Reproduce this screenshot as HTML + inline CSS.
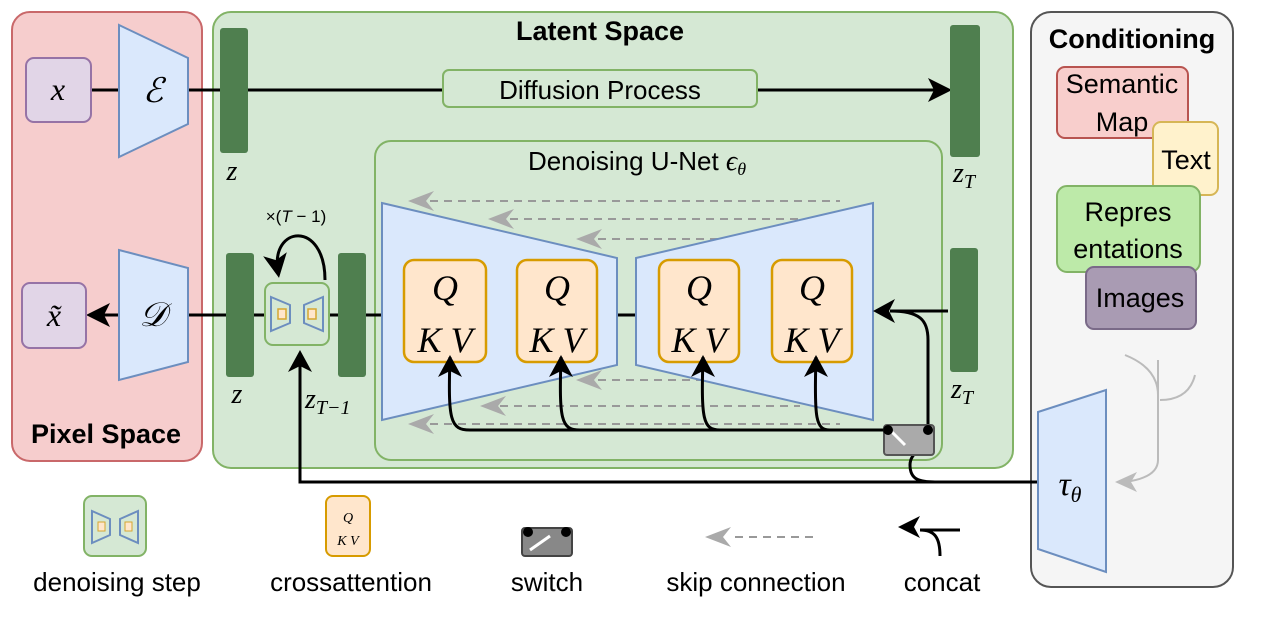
<html><head><style>body{margin:0;background:#fff}svg{display:block}text{font-family:"Liberation Sans",sans-serif}.m,.m text,.m tspan{font-family:"Liberation Serif",serif;font-style:italic}</style></head><body>
<svg width="1278" height="638" viewBox="0 0 1278 638">
<defs>
<marker id="a" markerWidth="8" markerHeight="8" refX="6" refY="4" orient="auto" markerUnits="strokeWidth"><path d="M0,0 L8,4 L0,8 L2,4z" fill="#000"/></marker>
</defs>
<rect x="12" y="12" width="190" height="449" rx="18" fill="#f6cdcd" stroke="#c9686a" stroke-width="2"/>
<rect x="213" y="12" width="800" height="456" rx="18" fill="#d5e8d4" stroke="#82b366" stroke-width="2"/>
<rect x="1031" y="12" width="202" height="575" rx="20" fill="#f5f5f5" stroke="#555" stroke-width="2"/>
<rect x="375" y="141" width="567" height="319" rx="16" fill="#d5e8d4" stroke="#82b366" stroke-width="2"/>
<text x="600" y="40" font-size="27" font-weight="bold" text-anchor="middle">Latent Space</text>
<text x="1132" y="48" font-size="27" font-weight="bold" text-anchor="middle">Conditioning</text>
<text x="106" y="443" font-size="27" font-weight="bold" text-anchor="middle">Pixel Space</text>
<!-- top row -->
<line x1="91" y1="90" x2="119" y2="90" stroke="#000" stroke-width="3"/>
<line x1="188" y1="90" x2="220" y2="90" stroke="#000" stroke-width="3"/>
<line x1="248" y1="90" x2="946" y2="90" stroke="#000" stroke-width="3" marker-end="url(#a)"/>
<rect x="26" y="58" width="65" height="64" rx="8" fill="#e1d5e7" stroke="#9673a6" stroke-width="2"/>
<text x="58" y="100" class="m" font-size="32" text-anchor="middle">x</text>
<polygon points="119,25 188,58 188,124 119,157" fill="#dae8fc" stroke="#6c8ebf" stroke-width="2"/>
<text x="153" y="102" class="m" font-size="34" text-anchor="middle">ℰ</text>
<rect x="220" y="28" width="28" height="125" rx="3" fill="#4f7f4f"/>
<text x="232" y="180" class="m" font-size="28" text-anchor="middle">z</text>
<rect x="443" y="70" width="314" height="37" rx="6" fill="#d5e8d4" stroke="#82b366" stroke-width="2"/>
<text x="600" y="99" font-size="26" text-anchor="middle">Diffusion Process</text>
<rect x="950" y="25" width="30" height="132" rx="3" fill="#4f7f4f"/>
<text x="964" y="182" class="m" font-size="28" text-anchor="middle">z<tspan font-size="20" dy="6">T</tspan></text>
<!-- lower row -->
<line x1="119" y1="315" x2="92" y2="315" stroke="#000" stroke-width="3" marker-end="url(#a)"/>
<line x1="188" y1="315" x2="382" y2="315" stroke="#000" stroke-width="3"/>
<line x1="617" y1="315" x2="636" y2="315" stroke="#000" stroke-width="3"/>
<rect x="22" y="283" width="64" height="65" rx="8" fill="#e1d5e7" stroke="#9673a6" stroke-width="2"/>
<text x="54" y="326" class="m" font-size="32" text-anchor="middle">x̃</text>
<polygon points="119,250 188,268 188,362 119,380" fill="#dae8fc" stroke="#6c8ebf" stroke-width="2"/>
<text x="153" y="326" class="m" font-size="34" text-anchor="middle">𝒟</text>
<rect x="226" y="253" width="28" height="124" rx="3" fill="#4f7f4f"/>
<rect x="338" y="253" width="28" height="124" rx="3" fill="#4f7f4f"/>
<text x="237" y="403" class="m" font-size="28" text-anchor="middle">z</text>
<text x="305" y="408" class="m" font-size="28">z<tspan font-size="20" dy="6">T−1</tspan></text>
<rect x="265" y="283" width="64" height="62" rx="8" fill="#d5e8d4" stroke="#82b366" stroke-width="2"/>
<polygon points="271,297 290,305 290,323 271,331" fill="none" stroke="#6c8ebf" stroke-width="2"/>
<polygon points="323,297 304,305 304,323 323,331" fill="none" stroke="#6c8ebf" stroke-width="2"/>
<rect x="278" y="309" width="8" height="10" fill="#ffe6cc" stroke="#d6a630" stroke-width="1.5"/>
<rect x="308" y="309" width="8" height="10" fill="#ffe6cc" stroke="#d6a630" stroke-width="1.5"/>
<path d="M325,280 C325,220 270,225 278,272" fill="none" stroke="#000" stroke-width="3" marker-end="url(#a)"/>
<text x="296" y="222" font-size="17" text-anchor="middle" font-family="Liberation Serif">×(<tspan font-style="italic">T</tspan> − 1)</text>
<!-- unet -->
<text x="637" y="170" font-size="26" text-anchor="middle">Denoising U-Net <tspan class="m" font-size="28">ϵ</tspan><tspan class="m" font-size="18" dy="5">θ</tspan></text>
<g stroke="#999" stroke-width="2" stroke-dasharray="8,6">
<line x1="430" y1="201" x2="840" y2="201"/>
<line x1="510" y1="219" x2="800" y2="219"/>
<line x1="598" y1="239" x2="750" y2="239"/>
<line x1="598" y1="380" x2="750" y2="380"/>
<line x1="500" y1="406" x2="800" y2="406"/>
<line x1="430" y1="424" x2="840" y2="424"/>
</g>
<g fill="#aaa"><path d="M408,201 l26,-10 -8,10 8,10z"/><path d="M488,219 l26,-10 -8,10 8,10z"/><path d="M576,239 l26,-10 -8,10 8,10z"/><path d="M576,380 l26,-10 -8,10 8,10z"/><path d="M480,406 l26,-10 -8,10 8,10z"/><path d="M408,424 l26,-10 -8,10 8,10z"/></g>
<polygon points="382,203 617,258 617,365 382,420" fill="#dae8fc" stroke="#6c8ebf" stroke-width="2"/>
<polygon points="636,258 873,203 873,420 636,365" fill="#dae8fc" stroke="#6c8ebf" stroke-width="2"/>
<g fill="#ffe6cc" stroke="#d79b00" stroke-width="2.5">
<rect x="404" y="260" width="82" height="102" rx="10"/><rect x="517" y="260" width="80" height="102" rx="10"/>
<rect x="659" y="260" width="80" height="102" rx="10"/><rect x="772" y="260" width="80" height="102" rx="10"/>
</g>
<g font-size="36" text-anchor="middle">
<text class="m" x="445" y="300">Q</text><text class="m" x="445" y="352">K V</text>
<text class="m" x="557" y="300">Q</text><text class="m" x="557" y="352">K V</text>
<text class="m" x="699" y="300">Q</text><text class="m" x="699" y="352">K V</text>
<text class="m" x="812" y="300">Q</text><text class="m" x="812" y="352">K V</text>
</g>
<g fill="none" stroke="#000" stroke-width="3">
<path d="M450,357 C448,420 450,430 470,430 L888,430"/>
<path d="M561,357 C559,420 561,430 580,430"/>
<path d="M703,357 C701,420 703,430 720,430"/>
<path d="M816,357 C814,420 816,430 830,430"/>
<path d="M948,311 L890,311 C920,311 928,320 928,340 L928,430 C928,450 910,450 910,465 C910,480 920,482 935,482 L1038,482"/>
<path d="M935,482 L300,482 L300,360"/>
</g>
<g fill="#000"><path d="M450,355 l-12,22 12,-6 12,6z"/><path d="M561,355 l-12,22 12,-6 12,6z"/><path d="M703,355 l-12,22 12,-6 12,6z"/><path d="M816,355 l-12,22 12,-6 12,6z"/><path d="M300,350 l-12,22 12,-6 12,6z"/><path d="M873,311 l22,-12 -6,12 6,12z"/></g>
<rect x="950" y="248" width="28" height="124" rx="3" fill="#4f7f4f"/>
<text x="962" y="398" class="m" font-size="28" text-anchor="middle">z<tspan font-size="20" dy="6">T</tspan></text>
<rect x="884" y="425" width="50" height="30" rx="3" fill="#aaa" stroke="#555" stroke-width="2"/>
<line x1="890" y1="430" x2="905" y2="445" stroke="#fff" stroke-width="3"/>
<circle cx="888" cy="430" r="5"/><circle cx="928" cy="430" r="5"/>
<!-- conditioning -->
<rect x="1057" y="67" width="131" height="71" rx="8" fill="#f8cecc" stroke="#b85450" stroke-width="2"/>
<text x="1122" y="93" font-size="27" text-anchor="middle">Semantic</text><text x="1122" y="131" font-size="27" text-anchor="middle">Map</text>
<rect x="1153" y="122" width="65" height="73" rx="8" fill="#fff2cc" stroke="#d6b656" stroke-width="2"/>
<text x="1186" y="169" font-size="27" text-anchor="middle">Text</text>
<rect x="1057" y="186" width="143" height="86" rx="10" fill="#bdeaa9" stroke="#82b366" stroke-width="2"/>
<text x="1128" y="221" font-size="27" text-anchor="middle">Repres</text><text x="1128" y="258" font-size="27" text-anchor="middle">entations</text>
<rect x="1086" y="267" width="110" height="62" rx="8" fill="#a99bb3" stroke="#7a6a88" stroke-width="2"/>
<text x="1140" y="307" font-size="27" text-anchor="middle">Images</text>
<g fill="none" stroke="#bbb" stroke-width="2"><path d="M1125,355 C1150,365 1158,380 1158,395 M1158,360 L1158,460 C1158,475 1140,480 1125,482 M1195,375 C1190,395 1175,400 1160,400"/></g>
<path d="M1115,482 l22,-10 -6,10 6,10z" fill="#bbb"/>
<polygon points="1038,412 1106,390 1106,572 1038,549" fill="#dae8fc" stroke="#6c8ebf" stroke-width="2"/>
<text x="1070" y="495" class="m" font-size="34" text-anchor="middle">τ<tspan font-size="22" dy="7">θ</tspan></text>
<!-- legend -->
<rect x="84" y="496" width="62" height="60" rx="8" fill="#d5e8d4" stroke="#82b366" stroke-width="2"/>
<polygon points="92,511 110,519 110,535 92,543" fill="none" stroke="#6c8ebf" stroke-width="2"/>
<polygon points="138,511 120,519 120,535 138,543" fill="none" stroke="#6c8ebf" stroke-width="2"/>
<rect x="98" y="522" width="7" height="9" fill="#ffe6cc" stroke="#d6a630"/><rect x="125" y="522" width="7" height="9" fill="#ffe6cc" stroke="#d6a630"/>
<text x="117" y="591" font-size="26" text-anchor="middle">denoising step</text>
<rect x="326" y="496" width="44" height="60" rx="7" fill="#ffe6cc" stroke="#d79b00" stroke-width="2"/>
<text x="348" y="522" class="m" font-size="14" text-anchor="middle">Q</text><text x="348" y="545" class="m" font-size="14" text-anchor="middle">K V</text>
<text x="351" y="591" font-size="26" text-anchor="middle">crossattention</text>
<rect x="522" y="528" width="50" height="28" rx="3" fill="#888" stroke="#444" stroke-width="2"/>
<line x1="530" y1="550" x2="550" y2="536" stroke="#fff" stroke-width="3"/>
<circle cx="528" cy="532" r="5"/><circle cx="566" cy="532" r="5"/>
<text x="547" y="591" font-size="26" text-anchor="middle">switch</text>
<line x1="735" y1="537" x2="815" y2="537" stroke="#999" stroke-width="2" stroke-dasharray="8,6"/>
<path d="M705,537 l26,-10 -8,10 8,10z" fill="#aaa"/>
<text x="756" y="591" font-size="26" text-anchor="middle">skip connection</text>
<path d="M960,530 L920,530 C935,530 940,538 940,556" fill="none" stroke="#000" stroke-width="3"/>
<path d="M898,527 l22,-11 -6,11 6,11z" fill="#000"/>
<text x="942" y="591" font-size="26" text-anchor="middle">concat</text>
</svg></body></html>
